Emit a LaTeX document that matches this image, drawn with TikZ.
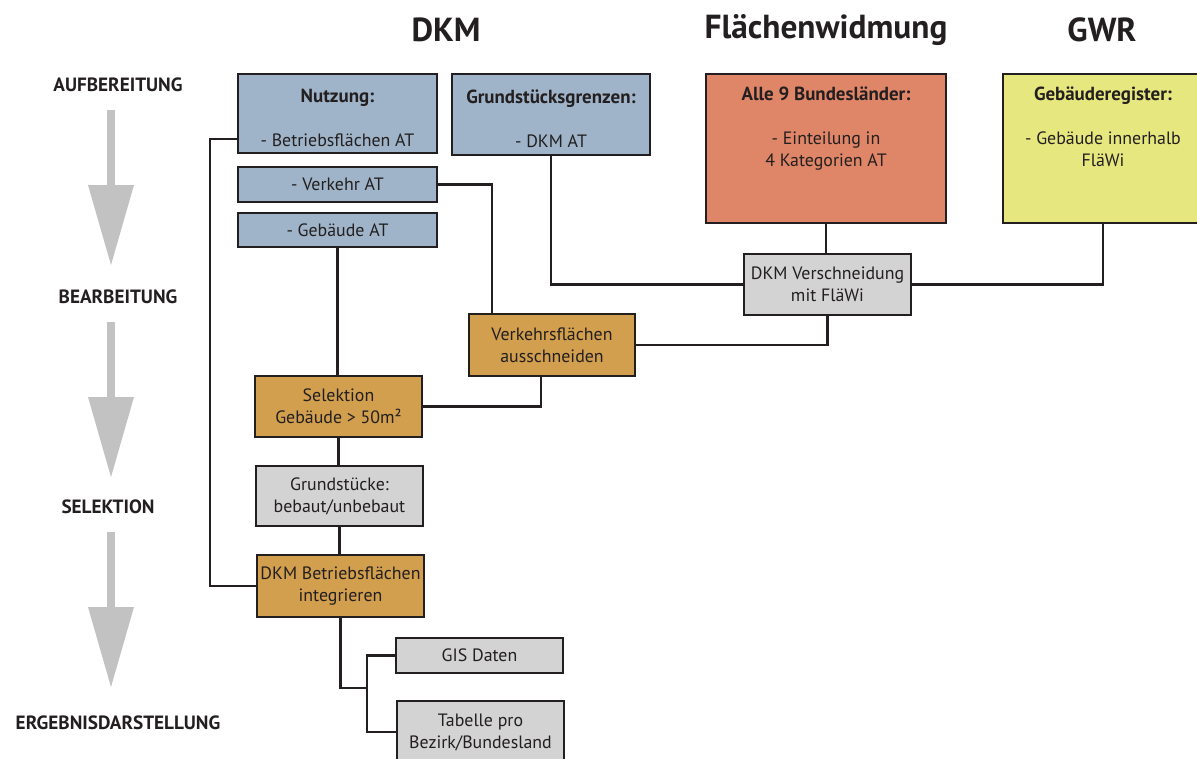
\documentclass[tikz,border=0pt]{standalone}
\usepackage{fontspec}
\setmainfont{PT Sans}
\definecolor{dkmblue}{HTML}{9FB4C8}
\definecolor{flwred}{HTML}{DF8568}
\definecolor{gwryel}{HTML}{E6E77E}
\definecolor{proctan}{HTML}{D19F4E}
\definecolor{procgray}{HTML}{D3D3D4}
\definecolor{linedark}{HTML}{231F20}
\definecolor{arrgray}{HTML}{C2C2C2}
\newcommand{\boxtitle}[1]{{\fontsize{14.2}{16.5}\selectfont\bfseries #1}}
\begin{document}
\begin{tikzpicture}[x=0.75pt,y=-0.75pt,
  box/.style={draw=linedark, line width=2pt, inner sep=0pt, outer sep=0pt,
    align=center, text=linedark, font=\fontsize{13.4}{16.5}\selectfont},
  blue/.style={box, fill=dkmblue},
  tan/.style={box, fill=proctan},
  grey/.style={box, fill=procgray},
  conn/.style={draw=linedark, line width=1.8pt},
  header/.style={font=\fontsize{25}{30}\selectfont\bfseries, text=linedark},
  phase/.style={font=\fontsize{14.4}{17}\selectfont\bfseries, text=linedark},
  phasearrow/.style={fill=arrgray}]
\useasboundingbox (0,0) rectangle (1197,758);
\fill[white] (0,0) rectangle (1197,758);

% headers
\node[header] (hdkm) at (446,30) {DKM};
\node[header] (hflw) at (826,30) {Flächenwidmung};
\node[header] (hgwr) at (1102,30) {GWR};

% phase labels
\node[phase] (p1) at (118,85) {AUFBEREITUNG};
\node[phase] (p2) at (118,297) {BEARBEITUNG};
\node[phase] (p3) at (108,507) {SELEKTION};
\node[phase] (p4) at (118,723) {ERGEBNISDARSTELLUNG};

% phase arrows
\fill[phasearrow] (107,110) rectangle (115,187);
\fill[phasearrow] (88,185) -- (134,185) -- (111,265) -- cycle;
\fill[phasearrow] (107,322) rectangle (115,399);
\fill[phasearrow] (88,397) -- (134,397) -- (111,477) -- cycle;
\fill[phasearrow] (107,532) rectangle (115,609);
\fill[phasearrow] (88,607) -- (134,607) -- (111,687) -- cycle;

% DKM boxes
\node[blue, minimum width=199*0.75pt, minimum height=79*0.75pt] (nutz) at (337.5,113.5)
  {\rule{0pt}{16pt}\boxtitle{Nutzung:}\\[16.5pt]- Betriebsflächen AT};
\node[blue, minimum width=198*0.75pt, minimum height=81*0.75pt] (grenz) at (551,114.5)
  {\rule{0pt}{16pt}\boxtitle{Grundstücksgrenzen:}\\[16.5pt]- DKM AT};
\node[blue, minimum width=199*0.75pt, minimum height=35*0.75pt] (verk) at (337.5,184.5) {- Verkehr AT};
\node[blue, minimum width=199*0.75pt, minimum height=34*0.75pt] (geb) at (337.5,230) {- Gebäude AT};

% Flächenwidmung and GWR
\node[box, fill=flwred, minimum width=240*0.75pt, minimum height=149*0.75pt] (alle) at (826,148.5)
  {\parbox[c][111.75pt][t]{176pt}{\centering\vspace*{9.8pt}%
   \boxtitle{Alle 9 Bundesländer:}\\[16.5pt]- Einteilung in\\4 Kategorien AT}};
\node[box, fill=gwryel, minimum width=200*0.75pt, minimum height=149*0.75pt] (gwr) at (1103,148.5)
  {\parbox[c][111.75pt][t]{146pt}{\centering\vspace*{9.8pt}%
   \boxtitle{Gebäuderegister:}\\[16.5pt]- Gebäude innerhalb\\FläWi}};

% processing
\node[grey, minimum width=167*0.75pt, minimum height=61*0.75pt] (versch) at (827.5,284.5)
  {DKM Verschneidung\\mit FläWi};
\node[tan, minimum width=166*0.75pt, minimum height=62*0.75pt] (vfl) at (552,345)
  {Verkehrsflächen\\ausschneiden};
\node[tan, minimum width=167*0.75pt, minimum height=61*0.75pt] (sel) at (338.5,406.5)
  {Selektion\\Gebäude > 50m²};
\node[grey, minimum width=167*0.75pt, minimum height=60*0.75pt] (grund) at (339.5,496)
  {Grundstücke:\\bebaut/unbebaut};
\node[tan, minimum width=167*0.75pt, minimum height=62*0.75pt] (betr) at (340.5,586)
  {DKM Betriebsflächen\\integrieren};
\node[grey, minimum width=167*0.75pt, minimum height=35*0.75pt] (gis) at (479.5,655.5) {GIS Daten};
\node[grey, minimum width=167*0.75pt, minimum height=62*0.75pt] (tab) at (480.5,732)
  {Tabelle pro\\Bezirk/Bundesland};
\coordinate (j) at (367,688);

% connectors
\draw[conn] (nutz.south west) ++(0,-14) -- ++(-28,0) |- (betr.west);
\draw[conn] (verk.east) -| ([xshift=-45pt]vfl.north);
\draw[conn] (geb.south) -- (geb.south |- sel.north);
\draw[conn] (grenz.south) |- (versch.west);
\draw[conn] (alle.south) -- (alle.south |- versch.north);
\draw[conn] (gwr.south) |- (versch.east);
\draw[conn] (versch.south) |- (vfl.east);
\draw[conn] ([xshift=-8.25pt]vfl.south) |- (sel.east);
\draw[conn] (sel.south) -- (sel.south |- grund.north);
\draw[conn] (grund.south) -- (grund.south |- betr.north);
\draw[conn] (betr.south) |- (j);
\draw[conn] (gis.west) -| (j) |- (tab.west);
\end{tikzpicture}
\end{document}
